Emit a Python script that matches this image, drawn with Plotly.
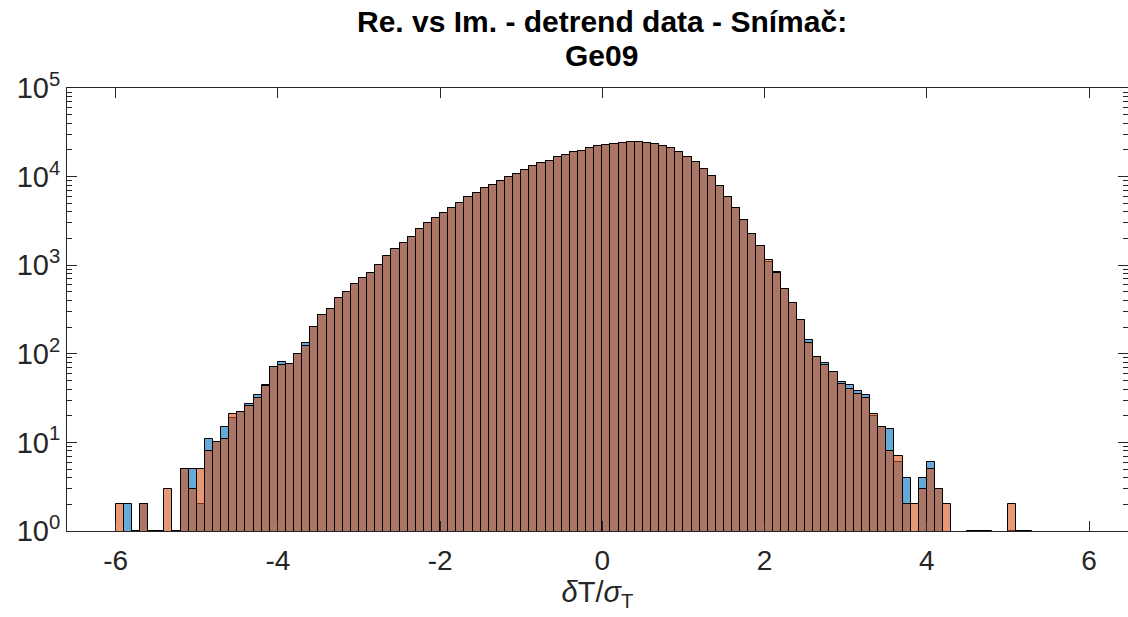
import plotly.graph_objects as go

# Histogram bins: first bin starts at -6.0, bin width 0.1 (113 bins up to 5.3)
BIN_START = -6.0
BIN_WIDTH = 0.1

# counts per bin (None = empty bin)
blue_counts = [
    None, 2, 1, 2, 1, 1, None, 1, 5, 5,            # -6.0 .. -5.1
    2, 11, 10, 15, 19, 22, 27, 34, 45, 71,         # -5.0 .. -4.1
    80, 77, 100, 132, 201, 272, 322, 421, 500, 615,  # -4.0 .. -3.1
    708, 822, 1000, 1270, 1510, 1770, 2100, 2540, 3030, 3390,  # -3.0 .. -2.1
    3860, 4480, 5100, 5810, 6500, 7350, 8010, 8960, 9790, 10670,  # -2.0 .. -1.1
    11850, 13250, 14100, 15100, 16500, 17500, 18800, 19600, 20850, 21980,  # -1.0 .. -0.1
    22600, 23500, 24000, 24390, 24390, 23940, 23340, 22330, 20850, 19100,  # 0.0 .. 0.9
    16760, 14480, 12160, 10040, 7870, 5960, 4480, 3216, 2274, 1645,  # 1.0 .. 1.9
    1100, 835, 532, 376, 243, 144, 92, 79, 63, 48,  # 2.0 .. 2.9
    45, 38, 34, 20, 15, 14, 6, 4, None, 4,          # 3.0 .. 3.9
    6, 3, None, None, None, 1, 1, 1, None, None,    # 4.0 .. 4.9
    1, 1, 1,                                        # 5.0 .. 5.2
]

orange_counts = [
    2, None, None, 2, 1, 1, 3, 1, 5, 3,
    5, 8, 10, 11, 21, 22, 26, 32, 43, 71,
    75, 77, 100, 121, 201, 272, 322, 421, 500, 615,
    708, 822, 1000, 1270, 1510, 1770, 2100, 2540, 3030, 3390,
    3860, 4480, 5100, 5810, 6500, 7350, 8010, 8960, 9790, 10670,
    11850, 13250, 14100, 15100, 16500, 17500, 18800, 19600, 20850, 21980,
    22600, 23500, 24000, 24390, 24390, 23940, 23340, 22330, 20850, 19100,
    16760, 14480, 12160, 10040, 7870, 5960, 4480, 3216, 2274, 1645,
    1133, 807, 532, 376, 243, 133, 92, 74, 63, 46,
    40, 35, 32, 21, 15, 8, 7, 2, 2, 3,
    5, 3, 2, None, None, None, None, None, None, None,
    2, None, None,
]

x_ticks = [-6, -4, -2, 0, 2, 4, 6]
y_ticks = [1, 10, 100, 1000, 10000, 100000]
y_ticktext = ["10<sup>0</sup>", "10<sup>1</sup>", "10<sup>2</sup>",
              "10<sup>3</sup>", "10<sup>4</sup>", "10<sup>5</sup>"]
minor_y = [m * 10 ** d for d in range(5) for m in range(2, 10)]

TITLE_LINE1 = "<b>Re. vs Im. - detrend data - Snímač:</b>"
TITLE_LINE2 = "<b>Ge09</b>"
XLABEL = "<i>δ</i>T/<i>σ</i><sub>T</sub>"

AXC = "#262626"
FONT = "Liberation Sans, Arial, sans-serif"

fig = go.Figure()
fig.add_trace(go.Bar(
    x0=BIN_START + BIN_WIDTH / 2, dx=BIN_WIDTH, y=blue_counts,
    width=BIN_WIDTH,
    marker=dict(color="rgba(0,114,189,0.6)", line=dict(color="black", width=1)),
    showlegend=False,
))
fig.add_trace(go.Bar(
    x0=BIN_START + BIN_WIDTH / 2, dx=BIN_WIDTH, y=orange_counts,
    width=BIN_WIDTH,
    marker=dict(color="rgba(217,83,25,0.6)", line=dict(color="black", width=1)),
    showlegend=False,
))

PLOT_TOP, PLOT_BOTTOM = 88, 531
PLOT_H = PLOT_BOTTOM - PLOT_TOP


def paper_y(px):
    return (PLOT_BOTTOM - px) / PLOT_H


fig.update_layout(
    width=1128, height=617,
    barmode="overlay", bargap=0,
    plot_bgcolor="white", paper_bgcolor="white",
    margin=dict(l=67, r=0, t=PLOT_TOP, b=617 - PLOT_BOTTOM),
    font=dict(family=FONT, color=AXC, size=28),
    annotations=[
        dict(text=TITLE_LINE1, x=0.504, xref="paper", xanchor="center",
             y=paper_y(21), yref="paper", yanchor="middle", showarrow=False,
             font=dict(family=FONT, size=30, color="black")),
        dict(text=TITLE_LINE2, x=0.504, xref="paper", xanchor="center",
             y=paper_y(55), yref="paper", yanchor="middle", showarrow=False,
             font=dict(family=FONT, size=30, color="black")),
    ],
)
fig.update_xaxes(
    range=[-6.6, 6.48], tickvals=x_ticks, ticktext=[str(v) for v in x_ticks],
    showline=True, mirror="ticks", linecolor=AXC, linewidth=1,
    ticks="inside", ticklen=10, tickcolor=AXC, showgrid=False, zeroline=False,
    tickfont=dict(size=28, color=AXC), ticklabelstandoff=4,
    title=dict(text=XLABEL, font=dict(size=29, color=AXC), standoff=6),
)
fig.update_yaxes(
    type="log", range=[0, 5], tickvals=y_ticks, ticktext=y_ticktext,
    showline=True, mirror="ticks", linecolor=AXC, linewidth=1,
    ticks="inside", ticklen=10, tickcolor=AXC, showgrid=False, zeroline=False,
    tickfont=dict(size=29, color=AXC),
    minor=dict(tickvals=minor_y, ticks="inside", ticklen=5, tickcolor=AXC, showgrid=False),
)

fig.write_html("out.html")
